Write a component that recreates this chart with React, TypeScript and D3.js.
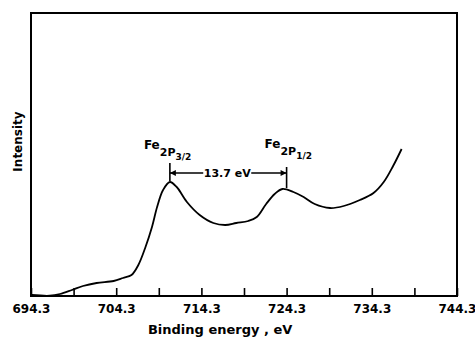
import React, { useEffect, useRef } from 'react';
import * as d3 from 'd3';

// binding energy (eV) and relative intensity
const energy = [
  694.4, 696.5, 697.7, 699.1, 700.4, 702.0, 704.0, 705.1, 706.1, 706.9, 707.7, 708.5,
  709.1, 709.8, 710.6, 711.4, 712.6, 714.1, 715.7, 717.1, 718.4, 719.8, 720.8, 721.9,
  722.9, 723.8, 725.1, 726.3, 727.6, 729.4, 731.0, 732.9, 734.5, 735.7, 736.8, 737.8,
];
const intensity = [
  1, 0.3, 2, 6, 10, 13, 15, 18, 21, 31, 48, 69,
  89, 106, 114, 109, 94, 81, 73, 71, 73, 75, 79, 92,
  102, 107, 104, 99, 92, 88, 90, 96, 103, 114, 130, 147,
];
const majorTicks = [694.3, 704.3, 714.3, 724.3, 734.3, 744.3];
const minorTicks = [699.3, 709.3, 719.3, 729.3, 739.3];
const peaks = [
  { e: 710.6, main: 'Fe', sub: '2P', frac: '3/2' },
  { e: 724.3, main: 'Fe', sub: '2P', frac: '1/2' },
];
const splitLabel = '13.7 eV';

const App = () => {
  const ref = useRef<SVGSVGElement>(null);

  useEffect(() => {
    const W = 475, H = 339;
    const margin = { top: 13, right: 18, bottom: 43, left: 31 };
    const width = W - margin.left - margin.right;
    const height = H - margin.top - margin.bottom;
    const font = 'DejaVu Sans, sans-serif';

    const root = d3.select(ref.current);
    root.selectAll('*').remove();
    const svg = root.append('g').attr('transform', `translate(${margin.left},${margin.top})`);

    const x = d3.scaleLinear().domain([694.3, 744.3]).range([0, width]);
    const y = d3.scaleLinear().domain([0, 283]).range([height, 0]);

    // frame
    svg.append('rect')
      .attr('width', width).attr('height', height)
      .attr('fill', 'none').attr('stroke', '#000').attr('stroke-width', 2);

    const ax = svg.append('g')
      .attr('transform', `translate(0,${height})`)
      .call(d3.axisBottom(x).tickValues(majorTicks).tickFormat(d3.format('.1f'))
        .tickSizeInner(-8).tickSizeOuter(0).tickPadding(8));
    ax.select('.domain').remove();
    ax.selectAll('line').attr('stroke-width', 1.6);
    ax.selectAll('text')
      .style('font-family', font).style('font-size', '12px').style('font-weight', 'bold');

    const mx = svg.append('g')
      .attr('transform', `translate(0,${height})`)
      .call(d3.axisBottom(x).tickValues(minorTicks).tickFormat(() => '')
        .tickSizeInner(-8).tickSizeOuter(0));
    mx.select('.domain').remove();
    mx.selectAll('line').attr('stroke-width', 1.6);

    // axis titles
    svg.append('text')
      .attr('x', x(716.5)).attr('y', height + 38)
      .attr('text-anchor', 'middle')
      .style('font-family', font).style('font-size', '13px').style('font-weight', 'bold')
      .text('Binding energy , eV');
    svg.append('text')
      .attr('transform', `translate(-9,${height / 2 - 13}) rotate(-90)`)
      .attr('text-anchor', 'middle')
      .style('font-family', font).style('font-size', '12px').style('font-weight', 'bold')
      .text('Intensity');

    // spectrum
    const data = energy.map((e, i) => ({ e, v: intensity[i] }));
    const line = d3.line<{ e: number; v: number }>()
      .x(d => x(d.e)).y(d => y(d.v))
      .curve(d3.curveCatmullRom.alpha(0.5));
    svg.append('path').datum(data)
      .attr('d', line).attr('fill', 'none')
      .attr('stroke', '#000').attr('stroke-width', 1.8);

    // peak labels
    const labelY = [136, 135];
    peaks.forEach((p, i) => {
      const t = svg.append('text')
        .attr('x', x(p.e) - 26 + i * 4).attr('y', labelY[i])
        .style('font-family', font).style('font-weight', 'bold');
      t.append('tspan').style('font-size', '12px').text(p.main);
      t.append('tspan').attr('dy', 7).style('font-size', '11px').text(p.sub);
      t.append('tspan').attr('dy', 4).style('font-size', '9px').text(p.frac);
    });

    // splitting marker
    const x1 = x(peaks[0].e), x2 = x(peaks[1].e), ay = 160;
    svg.append('line').attr('x1', x1).attr('x2', x1).attr('y1', 150).attr('y2', 168)
      .attr('stroke', '#000').attr('stroke-width', 1.6);
    svg.append('line').attr('x1', x2).attr('x2', x2).attr('y1', 154).attr('y2', 175)
      .attr('stroke', '#000').attr('stroke-width', 1.6);
    const tx = (x1 + x2) / 2 - 1;
    svg.append('line').attr('x1', x1).attr('x2', tx - 24).attr('y1', ay).attr('y2', ay)
      .attr('stroke', '#000').attr('stroke-width', 1.6);
    svg.append('line').attr('x1', tx + 24).attr('x2', x2).attr('y1', ay).attr('y2', ay)
      .attr('stroke', '#000').attr('stroke-width', 1.6);
    svg.append('path')
      .attr('d', `M${x1},${ay} l6,-3 v6 Z M${x2},${ay} l-6,-3 v6 Z`)
      .attr('fill', '#000');
    svg.append('text')
      .attr('x', tx).attr('y', ay + 4)
      .attr('text-anchor', 'middle')
      .style('font-family', font).style('font-size', '11px').style('font-weight', 'bold')
      .text(splitLabel);
  }, []);

  return <svg ref={ref} width={475} height={339} style={{ position: 'absolute', left: 0, top: 0 }} />;
};

export default App;
